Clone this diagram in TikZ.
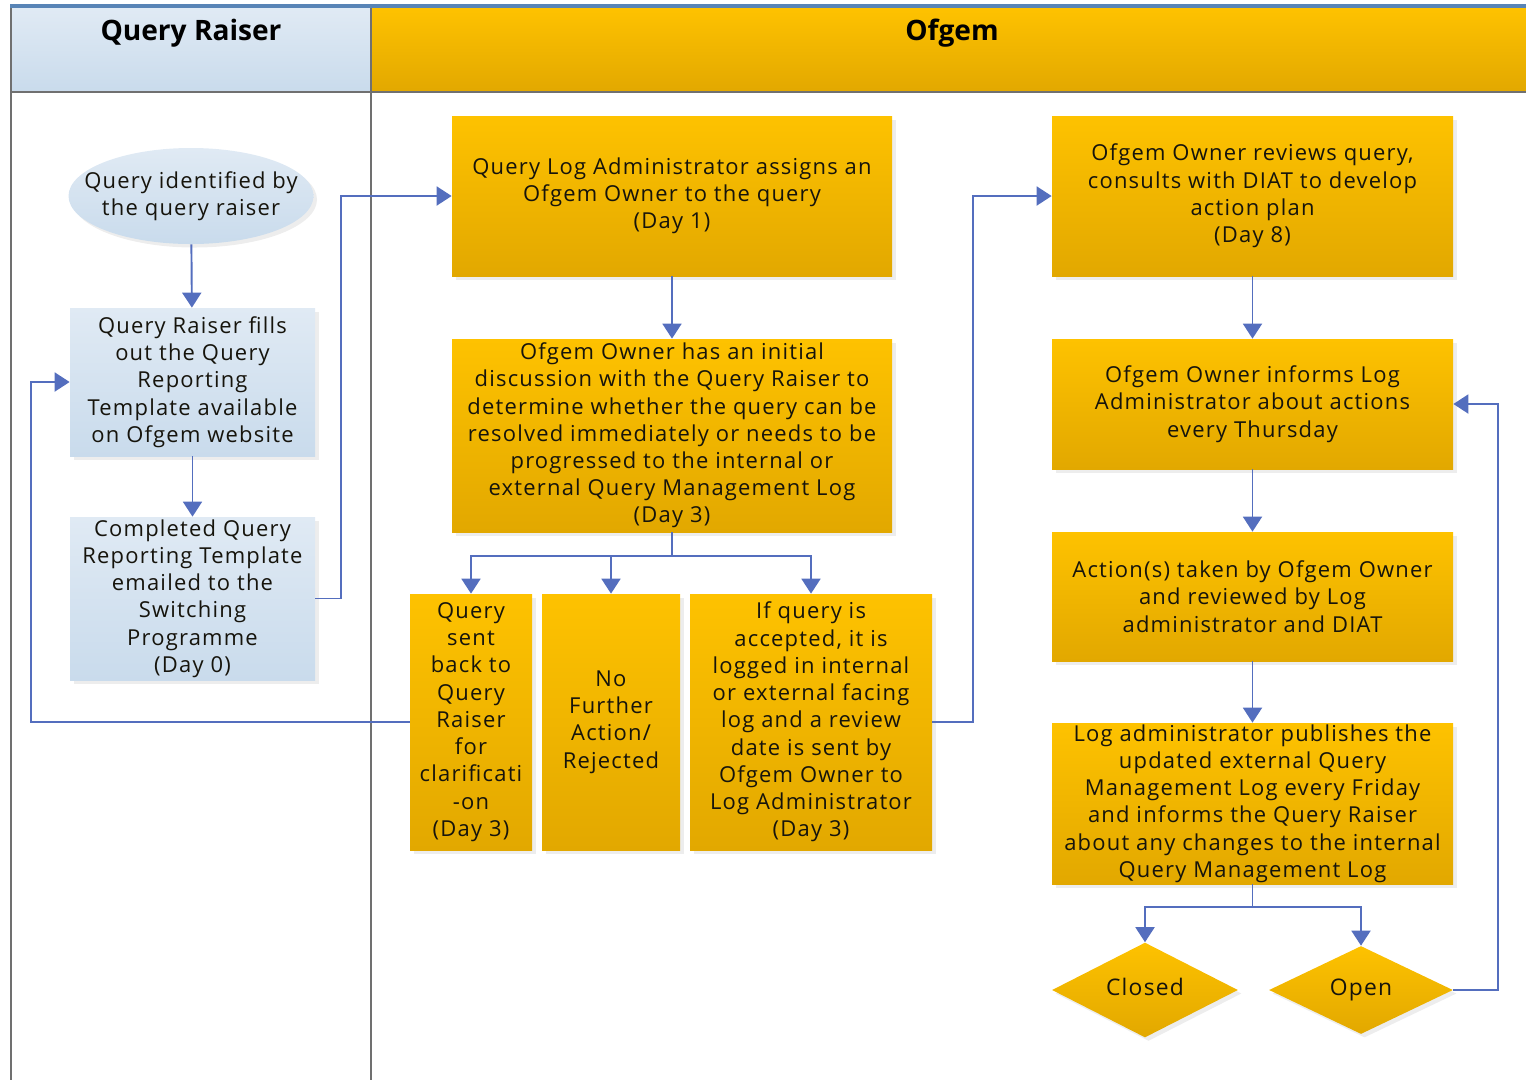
\documentclass[tikz,border=0pt]{standalone}
\usepackage{fontspec}
\setmainfont{Open Sans}[LetterSpace=5.5]
\newfontfamily\headFont{Open Sans}
\usetikzlibrary{positioning,shapes.geometric,arrows.meta,shadows}
\definecolor{laneColor}{RGB}{112,112,112}
\definecolor{flowColor}{RGB}{84,110,190}
\definecolor{headBlue}{RGB}{88,132,182}
\definecolor{ofgemTop}{RGB}{254,194,0}
\definecolor{ofgemBottom}{RGB}{226,168,0}
\definecolor{raiserTop}{RGB}{224,234,244}
\definecolor{raiserBottom}{RGB}{201,219,236}
\definecolor{textColor}{RGB}{22,20,12}
\tikzstyle{pixelGrid} = [x = 0.02cm, y = -0.02cm]
\tikzstyle{boxText} = [font=\fontsize{12.5}{15.5}\selectfont, text=textColor, align=center, inner sep=0pt]
\tikzstyle{boxShadow} = [drop shadow={shadow xshift=.07cm, shadow yshift=-.07cm, fill=black!14}]
\tikzstyle{ofgemShade} = [top color=ofgemTop, bottom color=ofgemBottom]
\tikzstyle{raiserShade} = [top color=raiserTop, bottom color=raiserBottom]
\tikzstyle{ofgemBox} = [boxText, rectangle, ofgemShade, boxShadow]
\tikzstyle{raiserBox} = [boxText, rectangle, raiserShade, boxShadow]
\tikzstyle{decisionBox} = [boxText, diamond, ofgemShade, boxShadow, text height=1.5ex, text depth=.3ex]
\tikzstyle{flowLine} = [draw=flowColor, line width=1.1pt]
\tikzstyle{flow} = [flowLine, -{Triangle[width=.38cm, length=.3cm]}]
\tikzstyle{laneLine} = [draw=laneColor, line width=1.3pt]
\tikzstyle{headText} = [font=\headFont\fontsize{16}{18}\selectfont\bfseries, text=black]
\newcommand{\ofgemStep}[6]{\node [ofgemBox, minimum width=#4*0.02cm, minimum height=#5*0.02cm] (#1) at (#2,#3) {#6};}
\newcommand{\raiserStep}[6]{\node [raiserBox, minimum width=#4*0.02cm, minimum height=#5*0.02cm] (#1) at (#2,#3) {#6};}
\begin{document}
\begin{tikzpicture}[pixelGrid]
  \useasboundingbox (0,0) rectangle (1526,1080);
  \fill [raiserShade] (11,8) rectangle (371,92);
  \fill [ofgemShade] (371,8) rectangle (1526,92);
  \draw [laneLine] (11,8) -- (11,1080);
  \draw [laneLine] (371,8) -- (371,1080);
  \draw [laneLine] (11,92) -- (1526,92);
  \draw [draw=headBlue, line width=2pt] (10,6) -- (1526,6);
  \node [headText] (raiserHead) at (191,33) {Query Raiser};
  \node [headText] (ofgemHead) at (952,33) {Ofgem};

  \path [raiserShade, boxShadow] (191,196) ellipse [x radius=122.5, y radius=48];
  \node [boxText, minimum width=4.9cm, minimum height=1.92cm] (identified) at (191,196) {Query identified by\\the query raiser};
  \raiserStep{fills}{192.5}{382}{245}{148}{Query Raiser fills\\out the Query\\Reporting\\Template available\\on Ofgem website}
  \raiserStep{emailed}{192.5}{598.5}{245}{163}{Completed Query\\Reporting Template\\emailed to the\\Switching\\Programme\\(Day 0)}

  \ofgemStep{assign}{672}{196}{440}{160}{Query Log Administrator assigns an\\Ofgem Owner to the query\\(Day 1)}
  \ofgemStep{discuss}{672}{435.5}{440}{193}{Ofgem Owner has an initial\\discussion with the Query Raiser to\\determine whether the query can be\\resolved immediately or needs to be\\progressed to the internal or\\external Query Management Log\\(Day 3)}
  \ofgemStep{sentBack}{471}{722}{122}{256}{Query\\sent\\back to\\Query\\Raiser\\for\\clarificati\\-on\\(Day 3)}
  \ofgemStep{rejected}{611}{722}{138}{256}{No\\Further\\Action/\\Rejected}
  \ofgemStep{accepted}{811}{722}{242}{256}{If query is\\accepted, it is\\logged in internal\\or external facing\\log and a review\\date is sent by\\Ofgem Owner to\\Log Administrator\\(Day 3)}
  \ofgemStep{review}{1252.5}{196}{401}{160}{Ofgem Owner reviews query,\\consults with DIAT to develop\\action plan\\(Day 8)}
  \ofgemStep{inform}{1252.5}{404}{401}{130}{Ofgem Owner informs Log\\Administrator about actions\\every Thursday}
  \ofgemStep{action}{1252.5}{596.5}{401}{129}{Action(s) taken by Ofgem Owner\\and reviewed by Log\\administrator and DIAT}
  \ofgemStep{publish}{1252.5}{803.5}{401}{161}{Log administrator publishes the\\updated external Query\\Management Log every Friday\\and informs the Query Raiser\\about any changes to the internal\\Query Management Log}
  \node [decisionBox, minimum width=3.72cm, minimum height=1.76cm, font=\fontsize{13}{16}\selectfont] (closed) at (1145,990) {Closed};
  \node [decisionBox, minimum width=3.68cm, minimum height=1.76cm, font=\fontsize{13}{16}\selectfont] (open) at (1361,990) {Open};

  \draw [flow] (identified) -- (fills);
  \draw [flow] (fills) -- (emailed);
  \draw [flow] (emailed.east) -- ++(26,0) |- (assign.west);
  \draw [flow] (assign) -- (discuss);
  \coordinate (split) at (672,556);
  \draw [flowLine] (discuss.south) -- (split);
  \draw [flow] (split) -| (sentBack.north);
  \draw [flow] (split) -| (rejected.north);
  \draw [flow] (split) -| (accepted.north);
  \draw [flow] (sentBack.west) -- (31,722) |- (fills.west);
  \draw [flow] (accepted.east) -- (973,722) |- (review.west);
  \draw [flow] (review) -- (inform);
  \draw [flow] (inform) -- (action);
  \draw [flow] (action) -- (publish);
  \coordinate (outcome) at (1252.5,907);
  \draw [flowLine] (publish.south) -- (outcome);
  \draw [flow] (outcome) -| (closed.north);
  \draw [flow] (outcome) -| (open.north);
  \draw [flow] (open.east) -- (1498,990) |- (inform.east);
\end{tikzpicture}
\end{document}
